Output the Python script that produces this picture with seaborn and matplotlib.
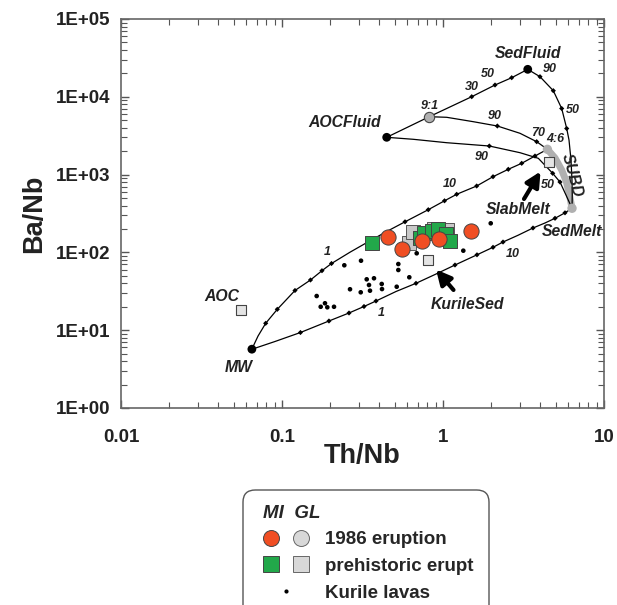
import matplotlib
matplotlib.use("Agg")
import matplotlib.pyplot as plt
from matplotlib.ticker import FuncFormatter, LogLocator
from matplotlib.lines import Line2D
from matplotlib.patches import FancyBboxPatch
from matplotlib.legend_handler import HandlerTuple
import seaborn as sns

# ---- data (Th/Nb, Ba/Nb) ----
# end members
mw_th, mw_ba = [0.065], [5.7]
fluid_th = [0.447, 3.36]          # AOCFluid, SedFluid
fluid_ba = [3015, 22550]

# mixing curves
upper_th = [0.0649, 0.0710, 0.0792, 0.0935, 0.1204, 0.1503, 0.1771, 0.2030, 0.2645, 0.352,
            0.4555, 0.581, 0.810, 1.022, 1.216, 1.619, 2.045, 2.544, 3.082, 3.727, 4.45]
upper_ba = [5.68, 8.42, 12.27, 18.56, 32.4, 44.2, 58.2, 72.0, 100.6, 141,
            189.5, 247.4, 353.8, 460.5, 558.3, 713.9, 939.8, 1170, 1397, 1734, 2115]
lower_th = [0.0649, 0.0905, 0.1302, 0.1957, 0.2607, 0.3231, 0.3836, 0.5107, 0.6796, 0.8918,
            1.187, 1.626, 2.045, 2.359, 2.922, 3.622, 4.301, 4.963, 5.725, 6.33]
lower_ba = [5.68, 7.16, 9.34, 13.13, 16.64, 20.17, 23.73, 31.44, 40.07, 51.98,
            68.87, 93.14, 116.3, 136.0, 165.9, 205.9, 238.8, 274.4, 322.8, 369]
fluidline_th = [0.447, 0.822, 1.508, 2.104, 2.671, 3.36]
fluidline_ba = [3015, 5550, 10030, 14180, 17600, 22550]
sedfl_th = [3.36, 4.004, 4.843, 5.461, 5.866, 6.062, 6.237, 6.327, 6.35, 6.33]
sedfl_ba = [22550, 18130, 11980, 7073, 3913, 2784, 1540, 852, 547, 369]
mix91_th = [0.822, 1.054, 1.543, 2.175, 3.008, 3.819, 4.45]
mix91_ba = [5550, 5452, 4786, 4214, 3395, 2648, 2115]
aocfl_th = [0.447, 0.6538, 1.054, 1.939, 3.008, 3.908, 4.8, 5.329, 5.767, 6.33]
aocfl_ba = [3015, 2843, 2570, 2331, 1912, 1620, 1039, 803, 563, 369]
subd_th = [4.45, 4.963, 5.461, 5.848, 6.106, 6.33]
subd_ba = [2115, 1635, 1146, 803, 547, 369]

# small increment marks along the curves
tick_th = [0.0792, 0.0935, 0.1204, 0.1503, 0.1771, 0.2030, 0.581, 0.810, 1.022, 1.216, 1.619,
           2.045, 2.544, 3.082, 3.727,
           0.1302, 0.1957, 0.2607, 0.3231, 0.3836, 0.6796, 1.187, 1.626, 2.045, 2.359, 3.622,
           4.963, 5.725,
           1.508, 2.104, 2.671,
           4.004, 4.843, 5.461, 5.866,
           2.175, 3.819,
           1.939, 4.8, 5.329]
tick_ba = [12.27, 18.56, 32.4, 44.2, 58.2, 72.0, 247.4, 353.8, 460.5, 558.3, 713.9,
           939.8, 1170, 1397, 1734,
           9.34, 13.13, 16.64, 20.17, 23.73, 40.07, 68.87, 93.14, 116.3, 136.0, 205.9,
           274.4, 322.8,
           10030, 14180, 17600,
           18130, 11980, 7073, 3913,
           4214, 2648,
           2331, 1039, 803]

# Kurile lavas
kur_th = [0.3096, 0.2438, 0.5278, 0.5278, 0.6176, 0.3358, 0.3727, 0.3470, 0.4163, 0.4180, 0.3520,
          0.2645, 0.3083, 0.5158, 0.1642, 0.1849, 0.1739, 0.1912, 0.2104, 0.6864, 1.337, 1.979]
kur_ba = [78.2, 68.3, 70.9, 59.4, 47.9, 45.1, 46.5, 38.1, 39.3, 33.8, 32.2,
          33.6, 30.7, 36.2, 27.5, 22.2, 20.0, 19.7, 20.0, 97.4, 105.2, 236.6]

# melt inclusions (MI) and glasses (GL)
mi86_th = [0.4535, 0.5563, 0.7428, 0.9417, 1.488]
mi86_ba = [156.4, 111.6, 142.2, 150.0, 188.4]
mipre_th = [0.3607, 0.7199, 0.7621, 0.8546, 0.9309, 1.044, 1.105]
mipre_ba = [130.9, 150.9, 177.6, 188.4, 197.0, 172.4, 142.2]
glpre_th = [0.6176, 0.6538, 0.8793, 1.059]
glpre_ba = [130.9, 184.5, 199.9, 194.1]
ref_th = [0.056, 0.811, 4.55]      # AOC, KurileSed, SlabMelt
ref_ba = [18.2, 79.8, 1439]
gl_end_th = [4.45, 6.33]           # 4:6 and SedMelt ends of SUBD
gl_end_ba = [2115, 369]
gl91_th, gl91_ba = [0.822], [5550]

legend_labels = ["1986 eruption", "prehistoric erupt", "Kurile lavas"]

ORANGE = "#f04e23"
GREEN = "#22a84a"

sns.set_theme(style="ticks")
plt.rcParams["font.family"] = ["Liberation Sans", "DejaVu Sans"]
plt.rcParams["font.weight"] = "bold"

fig = plt.figure(figsize=(6.17, 6.05), dpi=100)
ax = fig.add_axes([121 / 617, 1 - 408 / 605, 483 / 617, 389 / 605])
ax.set_xscale("log")
ax.set_yscale("log")
ax.set_xlim(0.01, 10)
ax.set_ylim(1, 1e5)

# mixing curves
for xs, ys in [(upper_th, upper_ba), (lower_th, lower_ba), (fluidline_th, fluidline_ba),
               (sedfl_th, sedfl_ba), (mix91_th, mix91_ba), (aocfl_th, aocfl_ba)]:
    sns.lineplot(x=xs, y=ys, sort=False, estimator=None, color="black", lw=0.9, ax=ax)
sns.lineplot(x=subd_th, y=subd_ba, sort=False, estimator=None, color="#b0b0b0", lw=5,
             ax=ax, zorder=1.5)
sns.scatterplot(x=tick_th, y=tick_ba, marker="D", s=7, color="black", edgecolor="none", ax=ax)

# Kurile lavas
sns.scatterplot(x=kur_th, y=kur_ba, s=11, color="black", edgecolor="none", ax=ax)

# samples
sns.scatterplot(x=glpre_th, y=glpre_ba, marker="s", s=100, color="#c8c8c8", edgecolor="#555555",
                linewidth=0.7, ax=ax, zorder=3)
sns.scatterplot(x=mipre_th, y=mipre_ba, marker="s", s=100, color=GREEN, edgecolor="#444444",
                linewidth=0.7, ax=ax, zorder=3)
sns.scatterplot(x=mi86_th, y=mi86_ba, marker="o", s=120, color=ORANGE, edgecolor="#444444",
                linewidth=0.7, ax=ax, zorder=4)
sns.scatterplot(x=ref_th, y=ref_ba, marker="s", s=55, color="#e4e4e4", edgecolor="#444444",
                linewidth=0.8, ax=ax, zorder=4)
sns.scatterplot(x=gl_end_th, y=gl_end_ba, marker="o", s=45, color="#b0b0b0", edgecolor="none",
                ax=ax, zorder=4)
sns.scatterplot(x=gl91_th, y=gl91_ba, marker="o", s=55, color="#b0b0b0", edgecolor="#444444",
                linewidth=0.8, ax=ax, zorder=4)
sns.scatterplot(x=mw_th + fluid_th, y=mw_ba + fluid_ba, marker="o", s=40, color="black",
                edgecolor="none", ax=ax, zorder=4)

# labels
lab = dict(fontsize=11.3, fontweight="bold", style="italic", color="#222222", ha="center", va="center")
num = dict(fontsize=9, fontweight="bold", style="italic", color="#222222", ha="center", va="center")
ax.text(3.387, 36240, "SedFluid", **lab)
ax.text(0.41, 4700, "AOCFluid", **{**lab, "ha": "right"})
ax.text(0.0422, 27.5, "AOC", **lab)
ax.text(0.0535, 3.34, "MW", **lab)
ax.text(2.935, 350.8, "SlabMelt", **lab)
ax.text(6.33, 184.5, "SedMelt", **lab)
ax.text(1.419, 21.1, "KurileSed", **lab)
ax.text(6.35, 988, "SUBD", rotation=-75, **lab)
for x, y, s in [(0.822, 7614, "9:1"), (4.963, 2843, "4:6"), (3.908, 3456, "70"),
                (2.104, 5664, "90"), (1.739, 1699, "90"), (1.508, 13485, "30"),
                (1.911, 19460, "50"), (4.618, 22570, "90"), (6.42, 6866, "50"),
                (1.105, 757, "10"), (0.1923, 102.1, "1"), (0.4163, 16.49, "1"),
                (2.710, 95.4, "10"), (4.49, 735, "50")]:
    ax.text(x, y, s, **num)

arrow = dict(arrowstyle="-|>", lw=3, mutation_scale=22, color="black", shrinkA=0, shrinkB=0)
ax.annotate("", xy=(4.033, 1096), xytext=(3.185, 486), arrowprops=arrow)
ax.annotate("", xy=(0.905, 60.3), xytext=(1.162, 32.9), arrowprops=arrow)

# axes styling
ax.xaxis.set_major_formatter(FuncFormatter(lambda v, p: f"{v:g}"))
ax.yaxis.set_major_formatter(FuncFormatter(lambda v, p: f"{v:.0E}"))
ax.yaxis.set_major_locator(LogLocator(base=10, numticks=10))
ax.yaxis.set_minor_locator(LogLocator(base=10, subs=range(2, 10), numticks=20))
ax.tick_params(which="both", direction="in", top=True, right=True, colors="#555555",
               labelcolor="#222222", labelsize=13.5)
ax.tick_params(which="major", length=6, width=1)
ax.tick_params(which="minor", length=4, width=0.8)
ax.tick_params(axis="x", pad=15)
ax.tick_params(axis="y", pad=8)
for t in ax.get_xticklabels() + ax.get_yticklabels():
    t.set_fontweight("bold")
for sp in ax.spines.values():
    sp.set_color("#666666")
    sp.set_linewidth(1.2)
ax.set_xlabel("Th/Nb", fontsize=19.5, fontweight="bold", color="#222222", labelpad=-2)
ax.set_ylabel("Ba/Nb", fontsize=19.5, fontweight="bold", color="#222222", labelpad=6)

# legend: rounded frame running off the bottom edge
frame = FancyBboxPatch((243 / 617, 1 - 625 / 605), 246 / 617, 135 / 605,
                       boxstyle="round,pad=0,rounding_size=0.02", transform=fig.transFigure,
                       facecolor="white", edgecolor="#555555", linewidth=1.0, clip_on=False)
fig.add_artist(frame)

h_mi86 = Line2D([], [], marker="o", ls="none", ms=11.5, mfc=ORANGE, mec="#444444", mew=0.7)
h_gl86 = Line2D([], [], marker="o", ls="none", ms=11.5, mfc="#d8d8d8", mec="#666666", mew=0.7)
h_mipre = Line2D([], [], marker="s", ls="none", ms=11, mfc=GREEN, mec="#444444", mew=0.7)
h_glpre = Line2D([], [], marker="s", ls="none", ms=11, mfc="#d8d8d8", mec="#666666", mew=0.7)
h_kur = Line2D([], [], marker="o", ls="none", ms=3, mfc="black", mec="none")
leg = fig.legend(handles=[(h_mi86, h_gl86), (h_mipre, h_glpre), h_kur], labels=legend_labels,
                 handler_map={tuple: HandlerTuple(ndivide=None, pad=0.75)},
                 title="MI  GL", alignment="left",
                 title_fontproperties={"weight": "bold", "style": "italic", "size": 13.5},
                 prop={"weight": "bold", "size": 13.5},
                 loc="upper left", bbox_to_anchor=(263 / 617, 1 - 505 / 605),
                 handlelength=2.45, handletextpad=0.84, labelspacing=0.5,
                 borderpad=0, borderaxespad=0, frameon=False)

fig.savefig("out.png", dpi=100)
